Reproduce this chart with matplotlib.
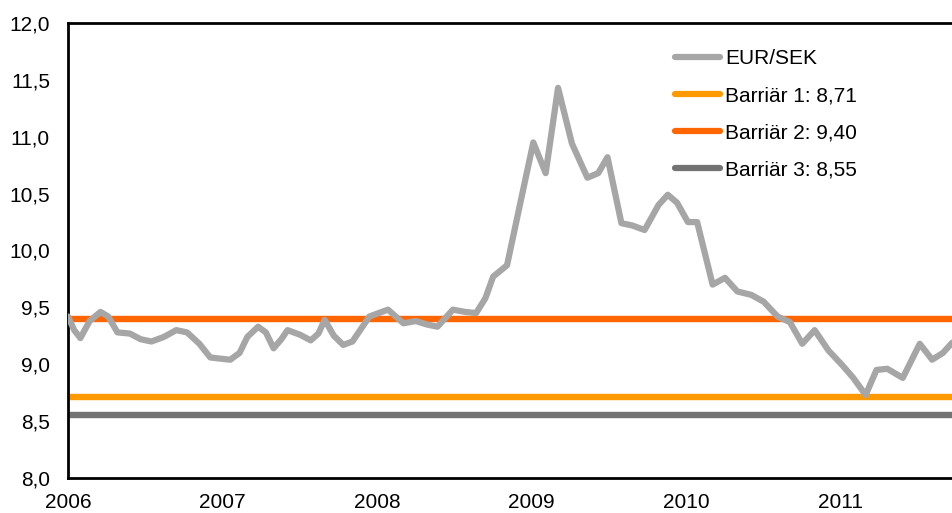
import matplotlib
matplotlib.use("Agg")
import matplotlib.pyplot as plt
from matplotlib.ticker import FuncFormatter, MultipleLocator

# EUR/SEK (decimal year, value)
t = [2006.00, 2006.04, 2006.08, 2006.14, 2006.21, 2006.26, 2006.32, 2006.40, 2006.47,
     2006.54, 2006.62, 2006.70, 2006.77, 2006.85, 2006.92, 2006.98, 2007.05, 2007.11,
     2007.16, 2007.23, 2007.28, 2007.33, 2007.38, 2007.42, 2007.50, 2007.57, 2007.62,
     2007.66, 2007.72, 2007.78, 2007.84, 2007.95, 2008.07, 2008.12, 2008.17, 2008.25,
     2008.32, 2008.39, 2008.49, 2008.57, 2008.64, 2008.70, 2008.75, 2008.84, 2008.92,
     2009.01, 2009.09, 2009.17, 2009.26, 2009.36, 2009.43, 2009.49, 2009.58, 2009.65,
     2009.73, 2009.82, 2009.88, 2009.94, 2010.01, 2010.07, 2010.17, 2010.25, 2010.33,
     2010.42, 2010.50, 2010.59, 2010.67, 2010.75, 2010.83, 2010.92, 2011.01, 2011.08,
     2011.16, 2011.23, 2011.30, 2011.40, 2011.51, 2011.59, 2011.66, 2011.72]
eursek = [9.42, 9.30, 9.23, 9.38, 9.46, 9.42, 9.28, 9.27, 9.22,
          9.20, 9.24, 9.30, 9.28, 9.18, 9.06, 9.05, 9.04, 9.10,
          9.24, 9.33, 9.28, 9.14, 9.22, 9.30, 9.26, 9.21, 9.27,
          9.39, 9.25, 9.17, 9.20, 9.42, 9.48, 9.42, 9.36, 9.38,
          9.35, 9.33, 9.48, 9.46, 9.45, 9.58, 9.77, 9.87, 10.38,
          10.95, 10.68, 11.43, 10.94, 10.64, 10.68, 10.82, 10.24, 10.22,
          10.18, 10.40, 10.49, 10.42, 10.25, 10.25, 9.70, 9.76, 9.64,
          9.61, 9.55, 9.42, 9.37, 9.18, 9.30, 9.12, 8.99, 8.88,
          8.73, 8.95, 8.96, 8.88, 9.18, 9.04, 9.10, 9.19]

barrier_labels = ["Barriär 1: 8,71", "Barriär 2: 9,40", "Barriär 3: 8,55"]
barrier_values = [8.71, 9.40, 8.55]
barrier_colors = ["#FF9900", "#FF6600", "#737373"]

year_ticks = [2006, 2007, 2008, 2009, 2010, 2011]

plt.rcParams['font.family'] = ['Liberation Sans', 'DejaVu Sans']

fig = plt.figure(figsize=(9.53, 5.13), dpi=100)
ax = fig.add_axes([68/953, 35/513, 1 - 68/953, (478-23)/513])

ax.plot(t, eursek, color="#A6A6A6", lw=4.5, solid_joinstyle="round",
        solid_capstyle="round", label="EUR/SEK", zorder=3)
for v, c, lab in zip(barrier_values, barrier_colors, barrier_labels):
    ax.axhline(v, color=c, lw=4.6, label=lab, zorder=2)

ax.set_xlim(2006, 2011.725)
ax.set_ylim(8.0, 12.0)
ax.yaxis.set_major_locator(MultipleLocator(0.5))
ax.yaxis.set_major_formatter(FuncFormatter(lambda v, p: f"{v:.1f}".replace(".", ",")))
ax.set_xticks(year_ticks)
ax.set_xticklabels([str(y) for y in year_ticks])
ax.tick_params(axis="both", length=0, labelsize=15)
ax.tick_params(axis="y", pad=13)
ax.tick_params(axis="x", pad=11)

for s in ["left", "bottom", "top"]:
    ax.spines[s].set_linewidth(2)
    ax.spines[s].set_color("black")
ax.spines["right"].set_visible(False)

leg = ax.legend(loc="upper left", bbox_to_anchor=(675/953, 1 - 49.5/513),
                bbox_transform=fig.transFigure, frameon=False, fontsize=15,
                handlelength=2.15, handletextpad=0.25, labelspacing=0.86,
                borderpad=0, borderaxespad=0)
for line in leg.get_lines():
    line.set_linewidth(4.5)
    line.set_solid_capstyle("round")

fig.savefig("out.png", dpi=100)
